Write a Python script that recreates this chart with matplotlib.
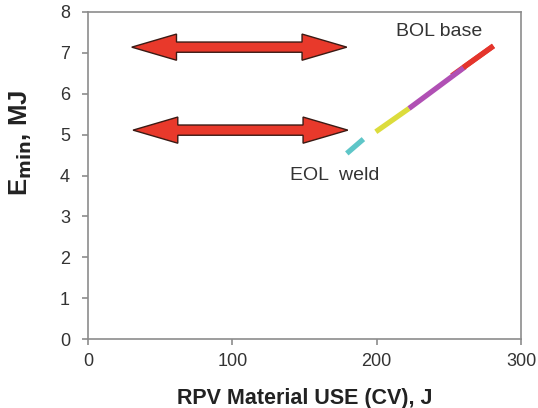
import matplotlib
matplotlib.use("Agg")
import matplotlib.pyplot as plt
from matplotlib.patches import Polygon

plt.rcParams['font.family'] = ['Liberation Sans', 'DejaVu Sans']

# Emin vs upper-shelf energy, split into material ranges
seg_cyan_x = [179.3, 190.8]
seg_cyan_y = [4.54, 4.89]
seg_yellow_x = [199.4, 222.4]
seg_yellow_y = [5.07, 5.64]
seg_purple_x = [222.4, 261.3]
seg_purple_y = [5.64, 6.66]
seg_red_x = [252.0, 280.9]
seg_red_y = [6.44, 7.17]

segments = [
    (seg_cyan_x, seg_cyan_y, '#5ec6c8'),
    (seg_yellow_x, seg_yellow_y, '#dcdc3c'),
    (seg_purple_x, seg_purple_y, '#b050b4'),
    (seg_red_x, seg_red_y, '#e4352c'),
]

# Double-headed range arrows: (x_start, x_end, y)
arrow_top = (30.3, 179.3, 7.14)
arrow_bottom = (31.2, 180.0, 5.11)

x_ticks = [0, 100, 200, 300]
y_ticks = [0, 1, 2, 3, 4, 5, 6, 7, 8]

fig = plt.figure(figsize=(5.38, 4.08), dpi=100)
ax = fig.add_axes([0.1636, 0.1691, 0.8048, 0.8015])

ax.set_xlim(0, 300)
ax.set_ylim(0, 8)

# red first, then the rest, so purple sits on top where they meet
for xs, ys, c in [segments[3], segments[0], segments[1], segments[2]]:
    ax.plot(xs, ys, color=c, lw=3.8, solid_capstyle='butt', zorder=3)
ax.plot([seg_red_x[0] + 8, seg_red_x[1]], [seg_red_y[0] + 0.2, seg_red_y[1]],
        color='#e4352c', lw=3.8, solid_capstyle='butt', zorder=4)


def double_arrow(x1, x2, y, shaft=0.125, head=0.32, head_len=31):
    verts = [
        (x1, y), (x1 + head_len, y + head), (x1 + head_len, y + shaft),
        (x2 - head_len, y + shaft), (x2 - head_len, y + head), (x2, y),
        (x2 - head_len, y - head), (x2 - head_len, y - shaft),
        (x1 + head_len, y - shaft), (x1 + head_len, y - head),
    ]
    ax.add_patch(Polygon(verts, closed=True, facecolor='#e8392b',
                         edgecolor='#3a1a14', lw=1.0, zorder=5))


double_arrow(*arrow_top)
double_arrow(*arrow_bottom)

ax.text(243.6, 7.53, 'BOL base', fontsize=14, color='#333333',
        ha='center', va='center')
ax.text(171, 4.01, 'EOL  weld', fontsize=14, color='#333333',
        ha='center', va='center')

ax.set_xticks(x_ticks)
ax.set_yticks(y_ticks)
for s in ax.spines.values():
    s.set_color('#8c8c8c')
    s.set_linewidth(1.2)
ax.tick_params(direction='out', length=4, width=1.2, color='#8c8c8c',
               labelsize=13, labelcolor='#333333')
ax.tick_params(axis='y', pad=9)
ax.tick_params(axis='x', pad=6)

ax.set_xlabel('RPV Material USE (CV), J', fontsize=15.5, fontweight='bold',
              color='#222222')
ax.xaxis.set_label_coords(0.5, -0.15)
ax.set_ylabel(r'E$_{\mathbf{min}}$, MJ', fontsize=18.5, fontweight='bold',
              color='#222222')
ax.yaxis.set_label_coords(-0.125, 0.60)

fig.savefig('out.png', dpi=100)
